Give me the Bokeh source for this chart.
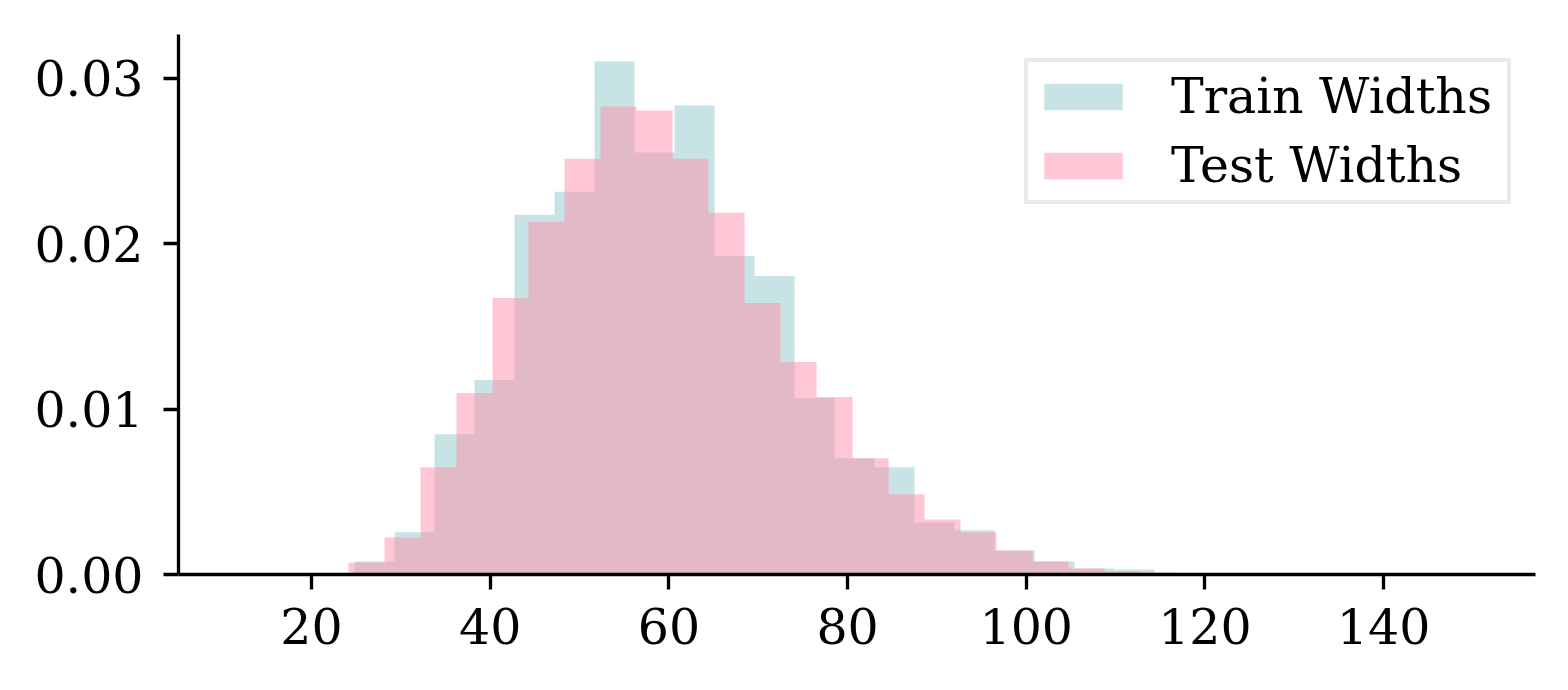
from bokeh.plotting import figure
from bokeh.models import ColumnDataSource, FixedTicker, NumeralTickFormatter, Range1d, Legend, LegendItem
from bokeh.embed import file_html
from bokeh.resources import INLINE

# ---- data (density histograms) ----
train_edges = [24.81, 29.29, 33.77, 38.24, 42.72, 47.20, 51.68, 56.16, 60.63, 65.11,
               69.59, 74.07, 78.55, 83.02, 87.50, 91.98, 96.46, 100.94, 105.41, 109.89, 114.37]
train_density = [0.00079, 0.00255, 0.00848, 0.01176, 0.02176, 0.02315, 0.03103, 0.02552,
                 0.02836, 0.01927, 0.01806, 0.01067, 0.00703, 0.00648, 0.00315, 0.00267,
                 0.00145, 0.00079, 0.00036, 0.00030]

test_edges = [24.14, 28.17, 32.20, 36.23, 40.26, 44.29, 48.32, 52.35, 56.38, 60.41,
              64.44, 68.47, 72.50, 76.53, 80.56, 84.59, 88.62, 92.65, 96.68, 100.71,
              104.74, 108.77, 112.80, 116.83]
test_density = [0.00073, 0.00224, 0.00648, 0.01097, 0.01673, 0.02133, 0.02515, 0.02830,
                0.02806, 0.02515, 0.02188, 0.01642, 0.01285, 0.01073, 0.00703, 0.00485,
                0.00333, 0.00255, 0.00145, 0.00079, 0.00036, 0.00018, 0.00012]

x_ticks = [20, 40, 60, 80, 100, 120, 140]
y_ticks = [0.0, 0.01, 0.02, 0.03]
series_labels = ["Train Widths", "Test Widths"]


def step_outline(edges, dens):
    """Outline of a histogram (one polygon, avoids seams between adjacent bars)."""
    xs, ys = [edges[0]], [0.0]
    for i, d in enumerate(dens):
        xs += [edges[i], edges[i + 1]]
        ys += [d, d]
    xs.append(edges[-1])
    ys.append(0.0)
    return xs, ys


tx, ty = step_outline(train_edges, train_density)
sx, sy = step_outline(test_edges, test_density)
train_src = ColumnDataSource(dict(x=tx, y=ty))
test_src = ColumnDataSource(dict(x=sx, y=sy))

FONT = "DejaVu Serif"
FS = "49px"

p = figure(width=1552, height=674, output_backend="svg", toolbar_location=None,
           x_range=Range1d(5.11, 157.0), y_range=Range1d(0, 0.03266),
           min_border_left=178, min_border_right=17, min_border_top=34, min_border_bottom=100)
p.outline_line_color = None
p.grid.visible = False
p.background_fill_color = "white"

r_train = p.patch(x="x", y="y", source=train_src,
                  fill_color="#008080", fill_alpha=0.22, line_color=None)
r_test = p.patch(x="x", y="y", source=test_src,
                 fill_color="#ff8fab", fill_alpha=0.5, line_color=None)

for ax in (p.xaxis[0], p.yaxis[0]):
    ax.axis_line_width = 3.3
    ax.axis_line_color = "black"
    ax.major_tick_line_width = 3.3
    ax.major_tick_line_color = "black"
    ax.major_tick_out = 15
    ax.major_tick_in = 0
    ax.minor_tick_line_color = None
    ax.major_label_text_font = FONT
    ax.major_label_text_font_size = FS
    ax.major_label_text_color = "black"

p.xaxis[0].ticker = FixedTicker(ticks=x_ticks)
p.yaxis[0].ticker = FixedTicker(ticks=y_ticks)
p.yaxis[0].formatter = NumeralTickFormatter(format="0.00")
p.xaxis[0].major_label_standoff = 18
p.yaxis[0].major_label_standoff = 20

legend = Legend(items=[LegendItem(label=series_labels[0], renderers=[r_train]),
                       LegendItem(label=series_labels[1], renderers=[r_test])],
                location="top_right", margin=24, padding=6, spacing=12,
                glyph_width=98, glyph_height=33, label_standoff=39, label_width=330,
                label_text_font=FONT, label_text_font_size=FS, label_text_color="black",
                border_line_color="#d6d6d6", border_line_width=4,
                background_fill_color="white", background_fill_alpha=0.8)
p.add_layout(legend)

open("out.html", "w").write(file_html(p, INLINE))
